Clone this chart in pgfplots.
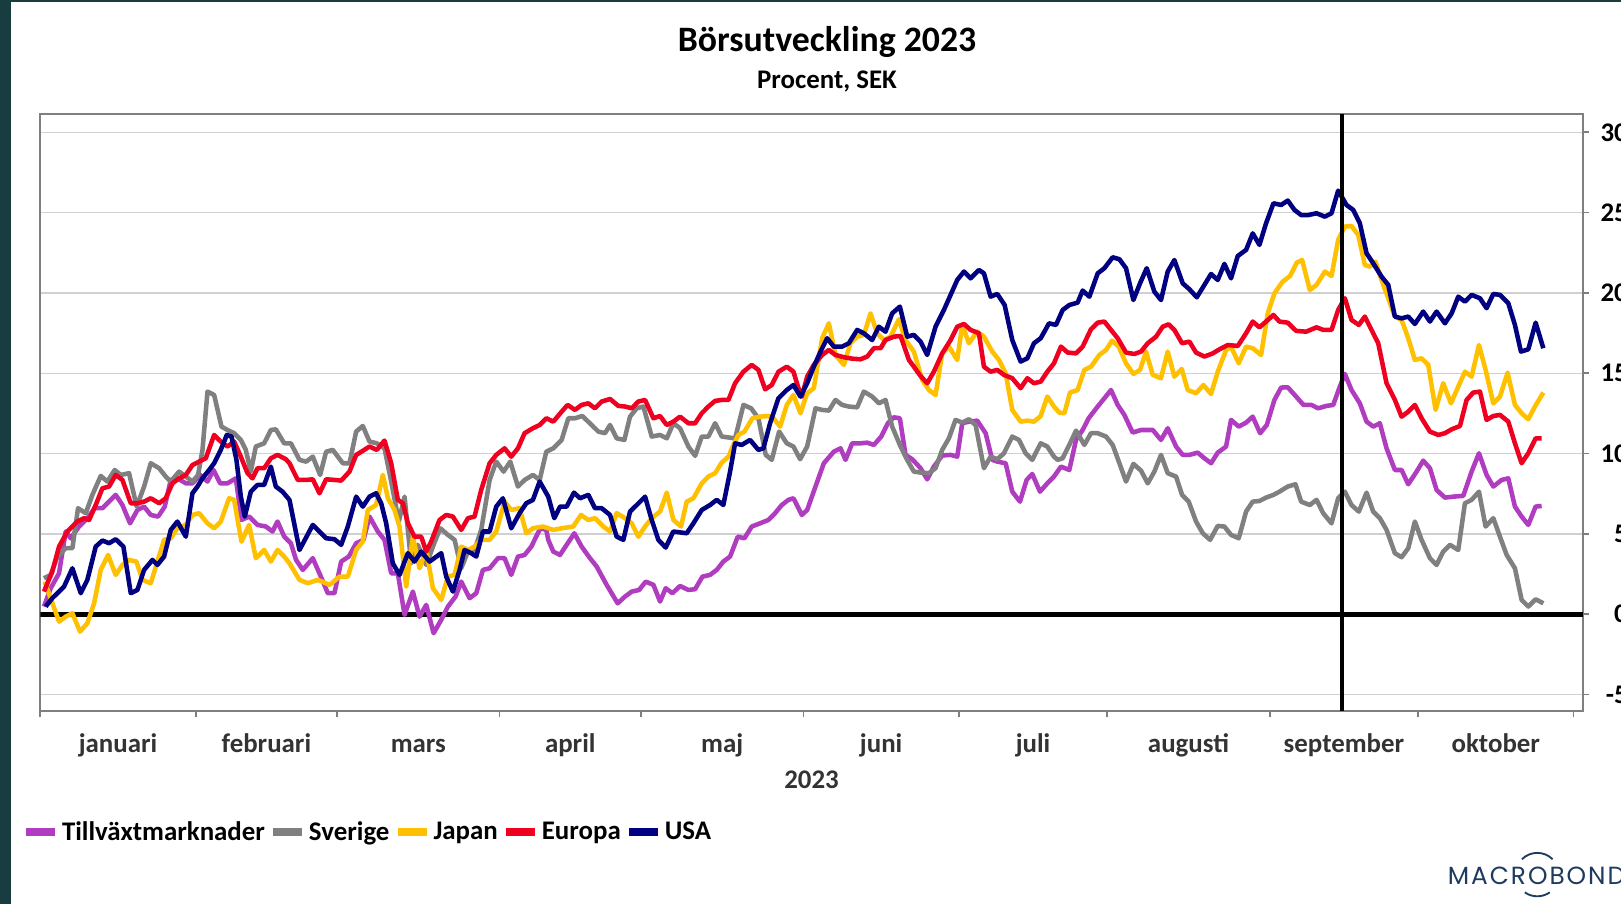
\documentclass[border=0pt]{standalone}
\usepackage{fontspec}
\setmainfont{Carlito}
\newfontfamily\logofont{Poppins}[LetterSpace=8]
\usepackage{pgfplots}
\pgfplotsset{compat=1.18}
\definecolor{cTill}{HTML}{B03CC0}
\definecolor{cSve}{HTML}{808080}
\definecolor{cJap}{HTML}{FFC000}
\definecolor{cEur}{HTML}{F00020}
\definecolor{cUSA}{HTML}{000080}
\definecolor{framec}{HTML}{7F7F7F}
\definecolor{gridc}{HTML}{D0D0D0}
\definecolor{sidec}{HTML}{173D40}
\definecolor{logoc}{HTML}{1F3A60}
\definecolor{monthc}{HTML}{333333}
\begin{document}
\begin{tikzpicture}
\useasboundingbox (0,0) rectangle (784pt,437pt);
\fill[white] (0,0) rectangle (784pt,437pt);
\fill[sidec] (0,0) rectangle (5.3pt,437pt);
\fill[sidec] (0,436pt) rectangle (784pt,437pt);
\node[anchor=base, font=\fontsize{17.3}{20}\selectfont\bfseries] at (400pt,412pt) {Börsutveckling 2023};
\node[anchor=base, font=\fontsize{13}{15}\selectfont\bfseries] at (400pt,394pt) {Procent, SEK};
\begin{axis}[
  at={(19.5pt,93pt)}, anchor=south west,
  scale only axis, width=746pt, height=288.7pt,
  xmin=0, xmax=218.3, ymin=-6.04, ymax=31.12,
  axis line style={framec, line width=1pt},
  tick align=outside,
  xtick pos=left, ytick pos=right,
  yticklabel pos=right,
  major tick length=3pt,
  tick style={framec, line width=0.8pt},
  xtick={0,22,42,65,85,108,130,151,174,195,217},
  xticklabels={},
  extra x ticks={11,32,53.5,75,96.5,119,140.5,162.5,184.5,206},
  extra x tick labels={januari,februari,mars,april,maj,juni,juli,augusti,september,oktober},
  extra x tick style={major tick length=0pt, grid=none},
  xticklabel style={font=\fontsize{13}{15}\selectfont\bfseries, text=monthc, anchor=base, yshift=-20pt, inner sep=0pt},
  ytick={-5,0,5,10,15,20,25,30},
  ymajorgrids, grid style={gridc, line width=0.6pt},
  /pgf/number format/assume math mode=true,
  yticklabel style={font=\fontsize{13}{15}\selectfont\bfseries, anchor=east, xshift=19pt, inner sep=0pt},
  xlabel={2023},
  xlabel style={at={(axis description cs:0.5,0)}, anchor=base, yshift=-37.5pt, font=\fontsize{13}{15}\selectfont\bfseries, text=monthc, inner sep=0pt},
  legend columns=-1,
  legend style={at={(axis description cs:-0.0161,-0.2026)}, anchor=west, draw=none, fill=none,
    font=\fontsize{13}{15}\selectfont\bfseries, nodes={inner sep=0pt},
    /tikz/every odd column/.append style={column sep=1.5pt},
    /tikz/every even column/.append style={column sep=2pt}},
  legend image code/.code={\draw[#1, line width=3.8pt, line cap=butt] (0pt,0pt) -- (14pt,0pt);},
  every axis plot/.append style={line width=2.2pt, line join=round},
]
\addplot[black, line width=2.4pt, forget plot] coordinates {(0,0) (218.3,0)};
% Tillvaxtmarknader
\addplot[cTill] table {
0.52 0.48
1.47 1.62
2.65 2.55
3.59 5.15
4.30 4.73
5.48 5.46
6.66 5.98
7.70 6.60
8.79 6.60
9.73 7.01
10.67 7.43
11.62 6.80
12.70 5.66
13.74 6.49
14.69 6.70
15.63 6.18
16.67 6.08
17.61 6.70
18.46 8.36
19.40 8.46
20.59 8.15
21.53 8.15
22.62 8.67
23.66 8.26
24.51 8.98
25.45 8.15
26.49 8.15
27.67 8.46
28.47 5.87
29.55 6.08
30.74 5.56
31.92 5.46
32.86 5.15
33.57 5.77
34.52 4.83
35.46 4.42
36.20 3.38
37.15 2.76
38.56 3.49
39.60 2.45
40.69 1.31
41.63 1.31
42.58 3.28
43.66 3.59
44.70 4.42
45.74 4.63
46.59 6.08
47.77 5.15
48.71 4.63
49.66 2.55
50.60 2.55
51.55 -0.04
52.73 1.41
53.67 -0.15
54.62 0.58
55.66 -1.18
56.74 -0.35
57.69 0.48
58.77 1.10
59.57 2.03
60.75 1.00
61.70 1.31
62.64 2.76
63.59 2.86
64.77 3.49
65.71 3.49
66.65 2.45
67.60 3.59
68.54 3.69
69.49 4.21
70.76 5.35
71.61 5.25
71.89 4.63
72.60 3.90
73.55 3.69
74.49 4.32
75.58 5.04
76.61 4.21
77.79 3.49
78.74 2.97
80.15 1.83
81.71 0.68
82.75 1.10
83.70 1.41
84.74 1.51
85.68 2.03
86.77 1.83
87.71 0.79
88.51 1.62
89.46 1.31
90.54 1.76
91.72 1.51
92.67 1.56
93.71 2.34
94.79 2.45
95.73 2.76
96.67 3.28
97.62 3.59
98.71 4.83
99.65 4.73
100.69 5.46
101.87 5.66
103.05 5.87
103.99 6.29
104.94 6.80
105.88 7.12
106.59 7.22
107.30 6.60
107.77 6.18
108.53 6.49
109.71 7.95
110.89 9.40
112.30 10.12
113.25 10.33
113.96 9.61
114.90 10.64
116.08 10.64
117.03 10.68
117.97 10.54
119.01 11.06
119.95 11.89
120.80 12.26
121.65 12.20
122.45 9.92
123.40 9.65
124.58 9.09
125.52 8.40
126.46 9.19
127.64 9.88
128.83 9.92
129.77 9.81
130.48 11.89
131.42 11.99
132.60 12.05
133.79 11.27
134.73 9.61
135.44 9.50
136.62 9.40
137.56 7.63
138.65 7.01
139.59 8.36
140.39 8.73
141.48 7.63
142.52 8.15
143.46 8.57
144.45 9.19
145.63 8.98
146.58 10.85
147.52 11.47
148.37 12.20
149.65 12.93
150.59 13.44
151.53 13.96
152.48 13.03
153.42 12.41
154.60 11.31
155.78 11.47
157.44 11.47
158.61 10.85
159.56 11.58
160.74 10.44
161.68 9.92
162.63 9.92
163.81 10.06
164.75 9.71
165.69 9.40
166.64 10.06
167.82 10.44
168.52 12.10
169.61 11.68
170.65 11.93
171.59 12.30
172.64 11.27
173.58 11.78
174.66 13.34
175.61 14.11
176.55 14.13
177.73 13.55
178.77 13.03
179.91 13.03
180.85 12.82
182.03 12.97
182.98 13.03
183.92 14.17
184.63 14.96
185.57 13.96
186.75 13.13
187.70 11.99
188.64 11.68
189.58 11.89
190.53 10.33
191.71 8.98
192.66 8.98
193.60 8.09
194.78 8.88
195.72 9.56
196.67 9.09
197.61 7.74
198.79 7.26
199.97 7.32
201.39 7.37
202.57 8.88
203.61 10.02
204.69 8.67
205.64 7.95
206.82 8.36
207.76 8.46
208.70 6.70
209.65 6.08
210.59 5.56
211.63 6.70
212.48 6.74
};
\addlegendentry{Tillväxtmarknader}
% Sverige
\addplot[cSve] table {
0.52 2.24
1.47 2.45
2.41 3.59
3.59 4.11
4.54 4.11
5.34 6.60
6.43 6.29
7.37 7.43
8.55 8.61
9.49 8.26
10.53 8.98
11.38 8.67
12.56 8.78
13.64 6.70
14.69 7.95
15.63 9.40
16.81 9.09
17.75 8.57
18.46 8.26
19.64 8.88
20.59 8.57
21.53 8.26
22.33 8.67
22.95 10.23
23.66 13.86
24.60 13.65
25.64 11.68
26.49 11.47
27.43 11.27
28.38 10.85
29.08 10.23
29.79 8.88
30.50 10.44
31.68 10.64
32.63 11.47
33.33 11.51
34.52 10.64
35.46 10.64
36.68 9.61
37.62 9.50
38.56 9.81
39.60 8.67
40.45 10.12
41.40 10.23
42.81 9.40
43.76 9.40
44.70 11.37
45.64 11.72
46.59 10.75
47.63 10.64
48.71 10.33
49.66 8.26
50.74 5.77
51.55 7.32
52.49 3.17
53.43 4.32
54.62 3.07
55.66 4.32
56.60 5.35
57.69 4.94
58.63 4.63
59.57 2.86
60.52 3.90
61.46 4.00
62.40 5.25
63.59 8.36
64.53 9.50
65.57 8.88
66.51 9.50
67.60 7.95
68.54 8.36
69.72 8.67
70.67 8.36
71.61 10.12
72.60 10.33
73.78 10.85
74.73 12.20
75.67 12.20
76.71 12.34
78.03 11.78
78.98 11.37
79.92 11.27
80.63 11.78
81.57 10.95
82.66 10.85
83.46 12.30
84.41 12.82
85.35 12.93
86.53 11.06
87.71 11.16
88.66 10.95
89.60 11.89
90.54 11.58
91.72 10.44
92.67 9.86
93.61 11.06
94.55 11.06
95.50 11.89
96.44 11.06
98.33 10.95
99.51 13.03
100.60 12.82
101.63 12.20
102.67 9.92
103.52 9.61
104.56 11.37
105.65 10.64
106.59 10.44
107.53 9.65
108.53 10.44
109.71 12.82
110.65 12.72
111.60 12.68
112.54 13.34
113.48 13.03
114.43 12.93
115.61 12.88
116.55 13.86
117.73 13.55
118.68 13.13
119.62 13.34
120.56 11.68
121.75 10.44
122.69 9.61
123.63 8.88
124.58 8.82
125.76 8.78
126.70 9.09
127.64 10.23
128.59 10.95
129.53 12.10
130.48 11.93
131.42 12.14
132.37 11.78
133.55 9.09
134.49 9.81
135.44 9.65
136.38 10.02
137.56 11.06
138.51 10.85
139.45 10.02
140.39 9.61
141.58 10.64
142.52 10.44
143.46 9.81
143.98 9.61
144.69 9.71
145.63 10.54
146.58 11.43
147.76 10.54
148.70 11.27
149.65 11.27
150.83 11.06
151.77 10.54
152.72 9.40
153.66 8.26
154.70 9.36
155.78 8.94
156.73 8.15
157.67 8.88
158.61 9.92
159.56 8.78
160.74 8.57
161.59 7.43
162.53 7.01
163.57 5.77
164.52 5.04
165.56 4.63
166.64 5.50
167.58 5.46
168.52 4.94
169.61 4.73
170.65 6.39
171.59 7.01
172.54 7.05
173.48 7.26
174.52 7.43
175.37 7.63
176.55 7.95
177.64 8.09
178.44 7.01
179.67 6.80
180.62 7.12
181.56 6.29
182.74 5.66
183.68 7.22
184.63 7.63
185.57 6.80
186.61 6.39
187.70 7.57
188.64 6.39
189.58 5.98
190.53 5.25
191.71 3.80
192.66 3.55
193.60 4.11
194.54 5.77
195.49 4.63
196.67 3.49
197.61 3.07
198.55 3.90
199.50 4.32
200.68 4.00
201.62 6.91
202.57 7.12
203.61 7.63
204.55 5.46
205.64 5.98
206.58 4.83
207.53 3.69
208.70 2.86
209.65 0.89
210.59 0.48
211.63 0.93
212.72 0.68
};
\addlegendentry{Sverige}
% Japan
\addplot[cJap] table {
0.62 2.03
2.65 -0.46
3.59 -0.15
4.54 0.06
5.62 -1.08
6.66 -0.56
7.61 0.68
8.55 2.76
9.59 3.69
10.67 2.45
11.62 3.07
12.56 3.38
13.60 3.28
14.45 2.14
15.63 1.93
16.57 3.28
17.52 4.63
18.46 4.73
19.40 5.35
20.59 5.56
21.53 6.18
22.48 6.29
23.66 5.66
24.60 5.35
25.54 5.77
26.72 7.22
27.43 7.12
28.47 4.52
29.55 5.56
30.50 3.49
31.68 4.00
32.63 3.28
33.57 4.00
34.52 3.59
35.26 3.17
36.68 2.14
37.86 1.93
39.27 2.14
40.93 1.83
42.34 2.34
43.52 2.34
44.70 4.00
45.64 4.52
46.35 6.49
47.53 6.80
48.48 8.67
49.19 7.22
50.13 6.49
50.84 5.46
51.78 1.72
52.73 4.83
53.67 2.86
54.62 4.00
55.56 1.62
56.74 0.89
57.69 2.34
58.63 2.45
59.57 4.21
60.52 4.00
61.46 4.21
62.40 4.63
63.59 4.63
64.53 5.15
65.71 7.01
66.65 6.49
67.83 6.60
68.78 5.04
69.72 5.35
71.14 5.46
72.60 5.25
73.78 5.35
75.43 5.46
76.52 6.18
77.56 5.87
78.50 5.98
79.68 5.46
80.63 5.15
81.57 6.29
82.75 5.98
83.70 5.66
84.64 4.83
85.59 5.46
86.53 5.98
87.71 6.39
88.66 7.57
89.60 5.87
90.68 5.46
91.48 7.01
92.43 7.22
93.61 8.15
94.55 8.57
95.50 8.78
96.44 9.44
97.39 9.81
98.09 10.54
98.80 11.16
99.65 11.37
100.78 12.20
101.87 12.30
103.05 12.34
103.76 12.20
104.70 11.68
105.65 13.03
106.59 13.65
107.58 12.51
108.53 13.76
109.47 14.07
110.65 17.18
111.60 18.11
112.54 16.14
113.72 15.52
114.66 16.87
115.61 17.28
116.55 17.39
117.50 18.73
118.44 17.49
119.38 17.07
120.33 17.28
121.51 18.36
122.45 17.07
123.63 16.35
124.81 14.59
125.76 13.96
126.70 13.65
127.64 16.24
128.59 16.66
129.77 15.83
130.48 18.01
131.42 16.87
132.60 17.59
133.55 17.28
134.73 16.35
135.67 15.83
136.62 15.00
137.56 12.72
138.74 11.99
139.69 12.05
140.63 11.99
141.58 12.34
142.52 13.55
143.46 12.93
144.22 12.55
144.93 12.51
145.73 13.80
146.81 13.96
147.76 15.21
148.70 15.41
149.88 16.14
150.83 16.45
151.68 17.03
152.62 16.66
153.66 15.62
154.70 14.96
155.64 15.21
156.49 16.35
157.44 14.90
158.61 14.69
159.56 16.35
160.50 14.79
161.54 15.27
162.39 13.96
163.57 13.76
164.61 14.27
165.69 13.71
166.64 15.10
167.82 16.45
168.52 16.66
169.61 15.62
170.65 16.66
171.59 16.56
172.77 16.14
173.72 18.73
174.66 19.98
175.84 20.71
176.88 21.06
177.83 21.89
178.58 22.05
179.67 20.19
180.62 20.50
181.80 21.33
182.74 21.06
183.68 23.30
184.63 24.13
185.57 24.17
186.52 23.61
187.46 21.74
188.17 21.64
188.97 21.95
189.82 20.81
190.77 19.67
191.71 18.53
192.66 18.32
193.60 17.18
194.54 15.83
195.49 15.93
196.43 15.52
197.47 12.72
198.55 14.38
199.64 13.13
200.68 14.17
201.62 15.10
202.57 14.79
203.61 16.76
204.55 15.21
205.64 13.13
206.58 13.55
207.66 15.04
208.70 13.03
209.65 12.51
210.59 12.14
211.53 12.93
212.72 13.80
};
\addlegendentry{Japan}
% Europa
\addplot[cEur] table {
0.52 1.41
1.70 2.66
2.65 4.21
3.83 5.15
5.25 5.77
6.19 5.98
6.90 5.87
7.84 6.80
8.79 7.84
9.73 7.95
10.67 8.67
11.62 8.36
12.80 6.91
13.74 6.91
14.69 7.01
15.63 7.22
16.81 6.91
17.75 7.22
18.70 8.15
19.64 8.46
20.59 8.67
21.53 9.29
22.48 9.50
23.42 9.71
24.60 11.16
25.54 10.75
26.49 10.44
27.43 10.75
28.38 9.81
29.32 8.78
30.03 8.46
30.74 9.09
31.68 9.09
32.63 9.71
33.57 9.92
34.75 9.65
35.26 9.40
36.44 8.36
37.62 8.36
38.56 8.40
39.51 7.53
40.45 8.40
41.63 8.36
42.58 8.32
43.76 8.88
44.70 9.92
45.64 10.17
46.59 10.44
47.63 10.23
48.71 10.81
49.66 9.40
50.60 7.12
51.31 6.91
52.02 5.66
52.96 4.83
53.91 4.83
54.62 3.90
55.32 4.52
56.50 5.87
57.45 6.18
58.39 6.08
59.57 5.25
60.52 5.98
61.46 6.08
62.40 7.74
63.59 9.40
64.53 9.92
65.71 10.33
66.65 9.81
67.60 10.33
68.54 11.27
69.72 11.58
70.67 11.78
71.61 12.20
72.60 11.99
73.78 12.61
74.63 13.03
75.67 12.72
76.61 13.03
77.56 13.13
78.50 12.82
79.45 13.24
80.63 13.40
81.81 12.97
82.75 12.93
83.70 12.82
84.64 13.24
85.59 13.34
86.77 12.20
87.71 12.34
88.66 11.78
89.60 11.99
90.54 12.30
91.72 11.89
92.67 11.89
93.61 12.51
94.55 12.93
95.50 13.28
96.44 13.34
97.39 13.34
98.33 14.38
99.51 15.10
100.69 15.52
101.63 15.21
102.58 14.00
103.52 14.27
104.47 15.10
105.65 15.41
106.59 15.10
107.30 14.07
107.77 13.55
108.53 14.79
109.47 15.52
110.65 16.14
111.60 16.45
112.54 16.14
113.72 16.00
114.90 15.91
116.08 15.87
117.03 16.04
117.97 16.56
118.92 16.56
119.62 17.07
120.80 17.28
121.75 17.32
122.93 15.83
123.63 15.41
124.58 14.83
125.52 14.38
126.46 15.10
127.64 16.24
128.83 17.07
129.77 17.90
130.72 18.07
131.66 17.70
132.84 17.49
133.55 15.41
134.49 15.10
135.44 15.21
136.38 14.90
137.56 14.69
138.74 14.07
139.69 14.69
140.63 14.38
141.58 14.48
142.52 15.10
143.46 15.62
144.45 16.66
145.40 16.29
146.58 16.24
147.52 16.66
148.70 17.74
149.65 18.15
150.59 18.22
151.53 17.70
152.48 17.18
153.66 16.29
154.84 16.20
155.78 16.35
156.73 16.87
157.91 17.28
158.85 17.90
159.70 18.05
160.50 17.70
161.59 16.87
162.63 16.97
163.57 16.29
164.75 16.04
165.94 16.24
166.88 16.49
168.06 16.76
169.47 16.70
170.65 17.49
171.59 18.22
172.54 17.86
173.48 18.22
174.52 18.63
175.37 18.22
176.55 18.15
177.73 17.64
179.15 17.59
180.62 17.86
181.56 17.70
182.74 17.70
183.68 18.94
184.63 19.67
185.57 18.32
186.61 18.01
187.46 18.53
188.40 17.70
189.35 16.87
190.53 14.38
191.71 13.34
192.66 12.30
193.60 12.61
194.54 13.03
195.49 12.20
196.67 11.37
197.85 11.16
198.79 11.27
199.74 11.51
200.92 11.72
201.86 13.34
202.80 13.80
203.75 13.86
204.69 12.10
205.64 12.34
206.58 12.41
207.76 11.99
208.70 10.64
209.65 9.40
210.59 10.02
211.63 10.95
212.48 10.95
};
\addlegendentry{Europa}
% USA
\addplot[cUSA] table {
0.76 0.48
1.70 1.00
3.36 1.72
4.54 2.86
5.72 1.31
6.66 2.14
7.84 4.21
8.79 4.59
9.73 4.42
10.67 4.67
11.76 4.21
12.80 1.31
13.74 1.51
14.69 2.76
15.87 3.38
16.57 3.07
17.52 3.59
18.46 5.25
19.40 5.77
20.59 4.83
21.53 7.53
22.24 7.95
22.95 8.46
23.89 8.98
24.60 9.40
25.54 10.23
26.39 11.16
27.06 11.06
27.76 9.61
28.38 7.32
28.94 6.08
29.79 7.63
30.74 8.05
31.68 8.05
32.63 9.19
33.33 7.95
34.28 7.63
35.26 7.12
36.68 4.00
38.56 5.56
40.45 4.73
41.63 4.67
42.58 4.32
43.52 5.46
44.70 7.32
45.64 6.70
46.59 7.32
47.53 7.53
48.24 6.91
48.95 5.66
49.89 3.17
50.84 2.45
52.02 3.80
52.96 3.28
53.91 3.90
55.09 3.28
56.74 3.80
57.45 2.34
58.39 1.41
59.34 2.76
60.04 4.00
60.99 3.80
61.70 3.59
62.64 5.15
63.59 5.15
64.53 6.70
65.47 7.22
66.65 5.35
67.83 6.29
68.78 6.91
69.72 7.12
70.67 8.26
71.89 7.32
72.74 5.98
73.55 6.70
74.49 6.70
75.53 7.57
76.38 7.22
77.56 7.43
78.50 6.60
79.45 6.60
80.63 6.18
81.57 4.83
82.52 4.63
83.46 6.39
84.41 6.80
85.59 7.32
86.53 5.87
87.47 4.63
88.51 4.15
89.59 5.15
91.48 5.04
92.43 5.66
93.61 6.49
94.79 6.80
95.73 7.12
96.67 6.80
97.62 8.88
98.33 10.64
99.27 10.54
100.45 10.85
101.63 10.23
102.34 10.33
103.28 11.89
104.46 13.44
105.64 13.96
106.59 14.27
107.58 13.55
108.53 14.38
109.47 15.41
110.42 16.35
111.36 17.18
112.30 16.66
113.48 16.66
114.43 16.87
115.61 17.70
116.55 17.49
117.73 17.07
118.68 17.90
119.62 17.59
120.56 18.73
121.65 19.15
122.69 17.28
123.63 17.39
124.58 16.97
125.52 16.14
126.70 17.90
127.88 18.94
128.83 19.88
129.77 20.81
130.72 21.33
131.66 20.91
132.84 21.43
133.55 21.22
134.49 19.77
135.44 19.94
136.48 19.25
137.56 17.07
138.74 15.73
139.69 15.93
140.63 16.87
141.58 17.18
142.76 18.11
143.75 18.01
144.69 18.94
145.63 19.25
146.81 19.40
147.52 20.15
148.47 19.77
149.65 21.22
150.59 21.54
151.77 22.22
152.72 22.10
153.66 21.54
154.70 19.56
155.64 20.60
156.59 21.54
157.67 20.08
158.61 19.56
159.56 21.33
160.50 22.05
161.68 20.60
162.63 20.23
163.67 19.73
164.75 20.50
165.69 21.18
166.64 20.81
167.58 21.81
168.52 20.91
169.47 22.30
170.65 22.68
171.59 23.71
172.54 22.99
173.48 24.34
174.52 25.58
175.61 25.48
176.55 25.75
177.50 25.17
178.44 24.85
179.44 24.85
180.62 24.96
181.80 24.75
182.74 24.96
183.68 26.37
184.86 25.48
185.81 25.17
186.75 24.34
187.70 22.47
188.64 21.85
189.82 21.02
190.77 20.50
191.71 18.53
192.66 18.42
193.60 18.53
194.54 18.07
195.72 18.84
196.67 18.22
197.61 18.84
198.79 18.11
199.74 18.73
200.68 19.77
201.62 19.46
202.57 19.88
203.75 19.67
204.69 19.05
205.64 19.94
206.58 19.88
207.76 19.36
208.70 18.01
209.55 16.35
210.59 16.49
211.63 18.15
212.72 16.56
};
\addlegendentry{USA}
\addplot[black, line width=2pt, forget plot] coordinates {(184.2,-6.04) (184.2,31.12)};
\end{axis}
\node[anchor=base west, text=logoc, font=\logofont\fontsize{12}{12}\selectfont, inner sep=0pt] at (700pt,9pt) {MACROBOND};
\draw[logoc, line width=0.9pt] (743.5pt,14pt) ++(45:10.5pt) arc (45:135:10.5pt);
\draw[logoc, line width=0.9pt] (743.5pt,14pt) ++(235:10.5pt) arc (235:305:10.5pt);
\end{tikzpicture}
\end{document}
